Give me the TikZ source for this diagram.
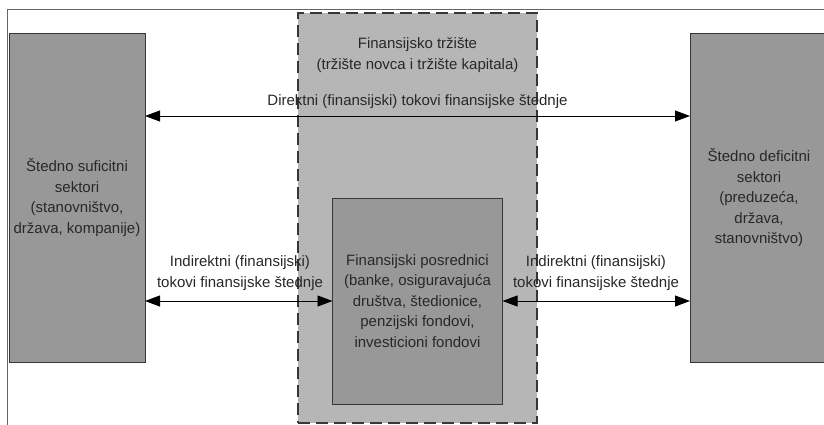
\documentclass[tikz,border=0pt]{standalone}
\usepackage{fontspec}
\setmainfont{Liberation Sans}
\usetikzlibrary{arrows.meta}
\definecolor{boxgray}{RGB}{152,152,152}
\definecolor{mktgray}{RGB}{182,182,182}
\definecolor{txtgray}{RGB}{40,40,40}
\definecolor{edgegray}{RGB}{55,55,55}
\tikzset{
  sector/.style={draw=edgegray, line width=0.9pt, fill=boxgray, inner sep=0pt, outer sep=0pt,
    text=txtgray, align=center, font=\fontsize{15}{20.5}\selectfont},
  market/.style={draw=edgegray, line width=1.6pt, dash pattern=on 12pt off 6pt, fill=mktgray,
    inner sep=0pt, outer sep=0pt},
  lbl/.style={text=txtgray, align=center, font=\fontsize{15}{21}\selectfont, inner sep=0pt},
  flow/.style={draw=black, line width=0.8pt, {Triangle[length=15pt,width=11pt]}-{Triangle[length=15pt,width=11pt]}},
  frame/.style={draw=gray!80!black, line width=0.8pt}
}
\begin{document}
\begin{tikzpicture}[x=1pt,y=-1pt]
\useasboundingbox (0,0) rectangle (824,425);
\clip (0,0) rectangle (824,425);
\fill[white] (0,0) rectangle (824,425);
% outer frame (top and left edges)
\coordinate (f1) at (7,430);
\coordinate (f2) at (7,9);
\coordinate (f3) at (830,9);
\draw[frame] (f1) -- (f2) -- (f3);
% market (dashed)
\node[market, minimum width=239pt, minimum height=410pt] (mkt) at (417.5,218) {};
% sectors
\node[sector, minimum width=136pt, minimum height=329pt] (left) at (77,197.5)
  {Štedno suficitni\\sektori\\(stanovništvo,\\država, kompanije)};
\node[sector, minimum width=138pt, minimum height=329pt] (right) at (759,197.5)
  {Štedno deficitni\\sektori\\(preduzeća,\\država,\\stanovništvo)};
% intermediaries
\node[sector, minimum width=170pt, minimum height=206pt] (mid) at (417.5,301)
  {Finansijski posrednici\\(banke, osiguravajuća\\društva, štedionice,\\penzijski fondovi,\\investicioni fondovi};
% market title
\node[lbl] (title) at (417.5,55) {Finansijsko tržište\\(tržište novca i tržište kapitala)};
% flows
\draw[flow] (left.east |- 0,116) -- (right.west |- 0,116);
\draw[flow] (left.east |- mid.west) -- (mid.west);
\draw[flow] (mid.east) -- (right.west |- mid.east);
% flow labels
\node[lbl] (ltop) at (417.5,102) {Direktni (finansijski) tokovi finansijske štednje};
\node[lbl] (lleft) at (240,273) {Indirektni (finansijski)\\tokovi finansijske štednje};
\node[lbl] (lright) at (596,273) {Indirektni (finansijski)\\tokovi finansijske štednje};
\end{tikzpicture}
\end{document}
